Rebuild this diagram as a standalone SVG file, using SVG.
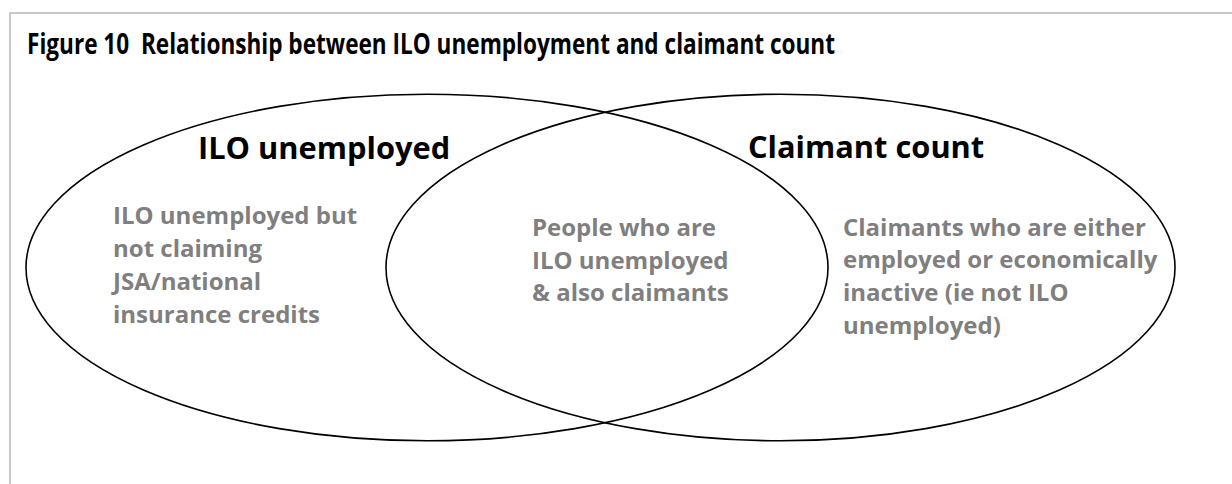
<svg xmlns="http://www.w3.org/2000/svg" width="1232" height="484" viewBox="0 0 1232 484">
  <style>
    .frame { fill: none; stroke: #c8c8c8; stroke-width: 2; }
    .set { fill: none; stroke: #000; stroke-width: 1.6; }
    .title { font-family: "Open Sans", "Noto Sans", sans-serif; font-weight: 700; font-size: 28px; fill: #000; white-space: pre; }
    .head { font-family: "Open Sans", "Noto Sans", sans-serif; font-weight: 700; font-size: 30.8px; fill: #000; }
    .body { font-family: "Open Sans", "Noto Sans", sans-serif; font-weight: 700; font-size: 24px; fill: #7f7f7f; }
  </style>
  <rect width="1232" height="484" fill="#fff"/>
  <!-- panel frame: top and left edges -->
  <path class="frame" d="M10,484 V13 H1232"/>
  <text class="title" x="27" y="54" textLength="808" lengthAdjust="spacingAndGlyphs">Figure 10  Relationship between ILO unemployment and claimant count</text>

  <g id="connectors"></g>

  <g id="ilo-unemployed">
    <ellipse class="set" cx="427" cy="267.5" rx="401" ry="173.3"/>
    <text class="head" x="198" y="159">ILO unemployed</text>
    <text class="body" x="113" y="224">ILO unemployed but</text>
    <text class="body" x="113" y="257">not claiming</text>
    <text class="body" x="113" y="290">JSA/national</text>
    <text class="body" x="113" y="323">insurance credits</text>
  </g>

  <g id="claimant-count">
    <ellipse class="set" cx="780.5" cy="267.5" rx="394.5" ry="173.3"/>
    <text class="head" x="748" y="158">Claimant count</text>
    <text class="body" x="843" y="236">Claimants who are either</text>
    <text class="body" x="843" y="268">employed or economically</text>
    <text class="body" x="843" y="301">inactive (ie not ILO</text>
    <text class="body" x="843" y="334">unemployed)</text>
  </g>

  <g id="overlap">
    <text class="body" x="532" y="236">People who are</text>
    <text class="body" x="532" y="269">ILO unemployed</text>
    <text class="body" x="532" y="301">&amp; also claimants</text>
  </g>
</svg>
